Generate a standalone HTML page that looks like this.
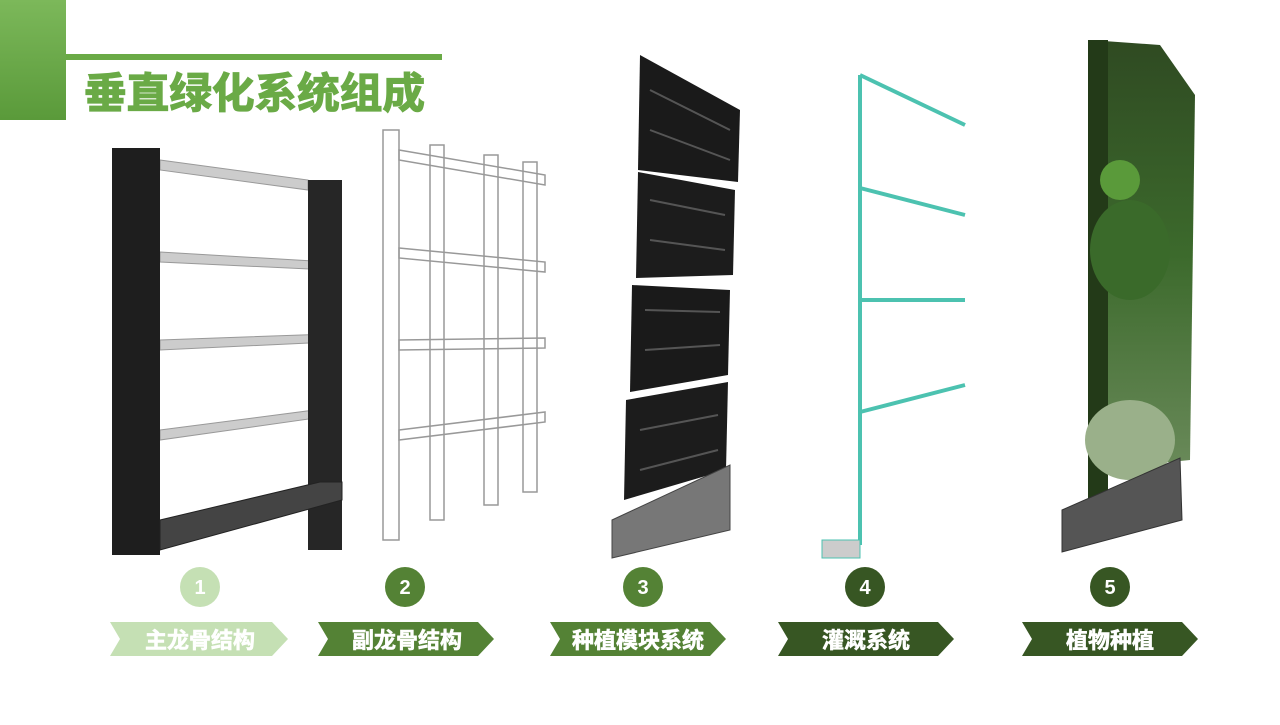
<!DOCTYPE html>
<html><head><meta charset="utf-8"><style>
body{margin:0;width:1280px;height:720px;background:#fff;overflow:hidden;font-family:"Liberation Sans","Noto Sans CJK SC",sans-serif}
</style></head><body>
<svg width="1280" height="720" viewBox="0 0 1280 720" xmlns="http://www.w3.org/2000/svg">
<defs>
<linearGradient id="gb" x1="0" y1="0" x2="0" y2="1"><stop offset="0" stop-color="#7cb85a"/><stop offset="1" stop-color="#5a9a3a"/></linearGradient>
<linearGradient id="gw" x1="0" y1="0" x2="0" y2="1"><stop offset="0" stop-color="#2f4a22"/><stop offset="0.5" stop-color="#3c6a2c"/><stop offset="1" stop-color="#6a8a5a"/></linearGradient>
</defs>
<rect x="0" y="0" width="66" height="120" fill="url(#gb)"/>
<rect x="66" y="54" width="376" height="6" fill="#6aaa46"/>
<text x="84" y="108" font-size="42" font-weight="bold" fill="#6aaa46" stroke="#6aaa46" stroke-width="1.2" textLength="341" lengthAdjust="spacingAndGlyphs" font-family="Liberation Sans,Noto Sans CJK SC,sans-serif">垂直绿化系统组成</text>

<!-- 1 main frame -->
<g>
<polygon points="160,160 308,180 308,190 160,170" fill="#ccc" stroke="#999"/>
<polygon points="160,252 330,262 330,270 160,262" fill="#ccc" stroke="#999"/>
<polygon points="160,340 330,334 330,342 160,350" fill="#ccc" stroke="#999"/>
<polygon points="160,430 330,408 330,416 160,440" fill="#ccc" stroke="#999"/>
<rect x="112" y="148" width="48" height="407" fill="#1e1e1e"/>
<rect x="308" y="180" width="34" height="370" fill="#262626"/>
<polygon points="160,520 320,482 342,482 342,500 160,550" fill="#444" stroke="#222"/>
</g>
<!-- 2 secondary frame -->
<g fill="none" stroke="#999" stroke-width="1.5">
<rect x="383" y="130" width="16" height="410"/>
<rect x="430" y="145" width="14" height="375"/>
<rect x="484" y="155" width="14" height="350"/>
<rect x="523" y="162" width="14" height="330"/>
<polygon points="399,150 545,175 545,185 399,160"/>
<polygon points="399,248 545,262 545,272 399,258"/>
<polygon points="399,340 545,338 545,348 399,350"/>
<polygon points="399,430 545,412 545,422 399,440"/>
</g>
<!-- 3 planting modules -->
<g>
<polygon points="640,55 740,110 738,182 638,170" fill="#1a1a1a"/>
<polygon points="638,172 735,190 733,275 636,278" fill="#1c1c1c"/>
<polygon points="632,285 730,290 728,375 630,392" fill="#1a1a1a"/>
<polygon points="626,400 728,382 726,470 624,500" fill="#1c1c1c"/>
<g stroke="#555" stroke-width="2">
<line x1="650" y1="90" x2="730" y2="130"/><line x1="650" y1="130" x2="730" y2="160"/>
<line x1="650" y1="200" x2="725" y2="215"/><line x1="650" y1="240" x2="725" y2="250"/>
<line x1="645" y1="310" x2="720" y2="312"/><line x1="645" y1="350" x2="720" y2="345"/>
<line x1="640" y1="430" x2="718" y2="415"/><line x1="640" y1="470" x2="718" y2="450"/>
</g>
<polygon points="612,520 730,465 730,530 612,558" fill="#777" stroke="#444"/>
</g>
<!-- 4 irrigation -->
<g stroke="#4cc2b0" stroke-width="4" fill="none">
<line x1="860" y1="75" x2="860" y2="545"/>
<line x1="860" y1="75" x2="965" y2="125"/>
<line x1="860" y1="188" x2="965" y2="215"/>
<line x1="860" y1="300" x2="965" y2="300"/>
<line x1="860" y1="412" x2="965" y2="385"/>
</g>
<rect x="822" y="540" width="38" height="18" fill="#ccc" stroke="#4cc2b0"/>
<!-- 5 green wall -->
<g>
<polygon points="1090,40 1160,45 1195,95 1190,460 1090,470" fill="url(#gw)"/>
<rect x="1088" y="40" width="20" height="470" fill="#233a18"/>
<ellipse cx="1130" cy="250" rx="40" ry="50" fill="#3a6a2a"/>
<ellipse cx="1120" cy="180" rx="20" ry="20" fill="#5a9a3a"/>
<ellipse cx="1130" cy="440" rx="45" ry="40" fill="#9ab08a"/>
<polygon points="1062,510 1180,458 1182,520 1062,552" fill="#555" stroke="#333"/>
</g>

<!-- circles -->
<g font-size="20" font-weight="bold" fill="#fff" text-anchor="middle">
<circle cx="200" cy="587" r="20" fill="#c5e0b4"/><text x="200" y="594">1</text>
<circle cx="405" cy="587" r="20" fill="#548235"/><text x="405" y="594">2</text>
<circle cx="643" cy="587" r="20" fill="#548235"/><text x="643" y="594">3</text>
<circle cx="865" cy="587" r="20" fill="#375623"/><text x="865" y="594">4</text>
<circle cx="1110" cy="587" r="20" fill="#375623"/><text x="1110" y="594">5</text>
</g>
<!-- chevrons -->
<g font-size="22" font-weight="bold" fill="#fff" stroke="#fff" stroke-width="0.6" text-anchor="middle" font-family="Liberation Sans,Noto Sans CJK SC,sans-serif">
<polygon points="110,622 272,622 288,639 272,656 110,656 120,639" fill="#c5e0b4" stroke="none"/><text x="200" y="648">主龙骨结构</text>
<polygon points="318,622 478,622 494,639 478,656 318,656 328,639" fill="#548235" stroke="none"/><text x="407" y="648">副龙骨结构</text>
<polygon points="550,622 710,622 726,639 710,656 550,656 560,639" fill="#548235" stroke="none"/><text x="638" y="648">种植模块系统</text>
<polygon points="778,622 938,622 954,639 938,656 778,656 788,639" fill="#375623" stroke="none"/><text x="866" y="648">灌溉系统</text>
<polygon points="1022,622 1182,622 1198,639 1182,656 1022,656 1032,639" fill="#375623" stroke="none"/><text x="1110" y="648">植物种植</text>
</g>
</svg>
</body></html>
